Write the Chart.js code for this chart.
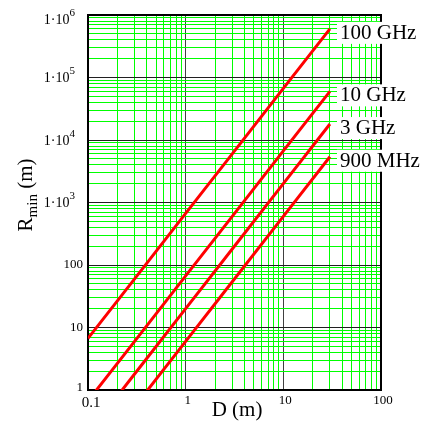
<!DOCTYPE html>
<html>
<head>
<meta charset="utf-8">
<script src="https://cdn.jsdelivr.net/npm/chart.js@4.4.1/dist/chart.umd.min.js"></script>
<style>
  html, body { margin: 0; padding: 0; background: #fff; }
  #wrap { width: 428px; height: 421px; }
  #fontprobe { position: absolute; left: -1000px; font-family: 'Liberation Serif'; }
</style>
</head>
<body>
<div id="wrap"><canvas id="chart" width="428" height="421"></canvas></div>
<div id="fontprobe">100 GHz 1·10 R min D (m)</div>
<script>
// ===== Data (antenna diameter D vs. far-field distance) =====
const diameters = [0.1, 0.3, 1, 3, 10, 30];
const r100GHz = [6.7, 60, 670, 6000, 67000, 600000];
const r10GHz  = [0.67, 6, 67, 600, 6700, 60000];
const r3GHz   = [0.2, 1.8, 20, 180, 2000, 18000];
const r900MHz = [0.06, 0.54, 6, 54, 600, 5400];

const seriesNames = ["100 GHz", "10 GHz", "3 GHz", "900 MHz"];
const seriesValues = [r100GHz, r10GHz, r3GHz, r900MHz];

// axis ranges and tick labels
const xTickValues = [0.1, 1, 10, 100];
const xTickLabels = ["0.1", "1", "10", "100"];
const yTickValues = [1, 10, 100, 1e3, 1e4, 1e5, 1e6];
const yTickLabels = ["1", "10", "100", "1·10^3", "1·10^4", "1·10^5", "1·10^6"];

const SERIF = "'Liberation Serif', serif";

function logGrid(min, max) {
  const out = [];
  for (let e = Math.round(Math.log10(min)); e < Math.round(Math.log10(max)); e++) {
    for (let m = 1; m < 10; m++) out.push(m * Math.pow(10, e));
  }
  out.push(max);
  return out;
}

function isDecade(v) {
  const l = Math.log10(v);
  return Math.abs(l - Math.round(l)) < 1e-6;
}

const xGrid = logGrid(0.1, 100);
const yGrid = logGrid(1, 1e6);
const xGridColors = xGrid.map(v => isDecade(v) ? "#404040" : "#00ff00");
const yGridColors = yGrid.map(v => isDecade(v) ? "#202020" : "#00ff00");

// ===== Frame, tick labels, titles and curve labels =====
const decorPlugin = {
  id: "decor",
  beforeDatasetsDraw(chart) {
    const a = chart.chartArea;
    const c = chart.ctx;
    c.save();
    c.strokeStyle = "#000";
    c.lineWidth = 2;
    c.strokeRect(a.left, a.top, a.right - a.left, a.bottom - a.top);
    c.restore();
  },
  afterDraw(chart) {
    const c = chart.ctx;
    const xs = chart.scales.x;
    const ys = chart.scales.y;
    c.save();
    c.fillStyle = "#000";

    // y tick labels
    c.textBaseline = "middle";
    yTickValues.forEach((v, i) => {
      const y = ys.getPixelForValue(v);
      const lab = yTickLabels[i];
      if (lab.indexOf("^") < 0) {
        c.font = "13px " + SERIF;
        c.textAlign = "right";
        c.fillText(lab, 83, Math.min(y, ys.bottom - 2));
      } else {
        const [base, exp] = lab.split("^");
        const dy = i === 6 ? 4 : 0;
        c.font = "11px " + SERIF;
        const ew = c.measureText(exp).width;
        c.textAlign = "right";
        c.fillText(exp, 75, y - 6 + dy);
        c.font = "14px " + SERIF;
        c.fillText(base, 75 - ew, y + 1 + dy);
      }
    });

    // x tick labels
    c.textAlign = "center";
    c.textBaseline = "middle";
    xTickValues.forEach((v, i) => {
      const x = xs.getPixelForValue(v);
      c.font = (i === 0 ? "15px " : "13px ") + SERIF;
      c.fillText(xTickLabels[i], x + (i === 0 ? 3 : 2), i === 0 ? 403 : 401);
    });

    // axis titles
    c.font = "21px " + SERIF;
    c.textAlign = "center";
    c.textBaseline = "alphabetic";
    c.fillText("D (m)", 237, 416);

    c.save();
    c.translate(32, 195);
    c.rotate(-Math.PI / 2);
    c.textAlign = "left";
    c.font = "21px " + SERIF;
    const rW = c.measureText("R").width;
    c.font = "15px " + SERIF;
    const mW = c.measureText("min").width;
    c.font = "21px " + SERIF;
    const pW = c.measureText(" (m)").width;
    let tx = -(rW + mW + pW) / 2;
    c.fillText("R", tx, 0);
    tx += rW;
    c.font = "15px " + SERIF;
    c.fillText("min", tx, 5);
    tx += mW;
    c.font = "21px " + SERIF;
    c.fillText(" (m)", tx, 0);
    c.restore();

    // curve labels with white boxes at the end of each line
    c.font = "21px " + SERIF;
    c.textAlign = "left";
    c.textBaseline = "alphabetic";
    const last = diameters.length - 1;
    seriesNames.forEach((name, i) => {
      const yEnd = ys.getPixelForValue(seriesValues[i][last]);
      const w = c.measureText(name).width;
      const x0 = 340;
      const base = yEnd + 10;
      c.fillStyle = "#fff";
      c.fillRect(x0 - 3, base - 17, w + 6, 22);
      c.fillStyle = "#000";
      c.fillText(name, x0, base);
    });
    c.restore();
  }
};

const datasets = seriesNames.map((name, i) => ({
  label: name,
  data: diameters.map((d, j) => ({ x: d, y: seriesValues[i][j] })),
  borderColor: "#ff0000",
  borderWidth: 3,
  pointRadius: 0,
  fill: false,
  tension: 0
}));

function draw() {
  new Chart(document.getElementById("chart").getContext("2d"), {
    type: "line",
    data: { datasets },
    options: {
      responsive: false,
      animation: false,
      layout: { padding: { left: 88, top: 15, right: 47, bottom: 31 } },
      plugins: { legend: { display: false }, tooltip: { enabled: false } },
      scales: {
        x: {
          type: "logarithmic",
          min: 0.1,
          max: 100,
          afterBuildTicks: s => { s.ticks = xGrid.map(v => ({ value: v })); },
          ticks: { display: false },
          border: { display: false },
          grid: { color: xGridColors, lineWidth: 1, drawTicks: false }
        },
        y: {
          type: "logarithmic",
          min: 1,
          max: 1e6,
          afterBuildTicks: s => { s.ticks = yGrid.map(v => ({ value: v })); },
          ticks: { display: false },
          border: { display: false },
          grid: { color: yGridColors, lineWidth: 1, drawTicks: false }
        }
      }
    },
    plugins: [decorPlugin]
  });
}

document.fonts.load("21px 'Liberation Serif'").then(draw, draw);
</script>
</body>
</html>
